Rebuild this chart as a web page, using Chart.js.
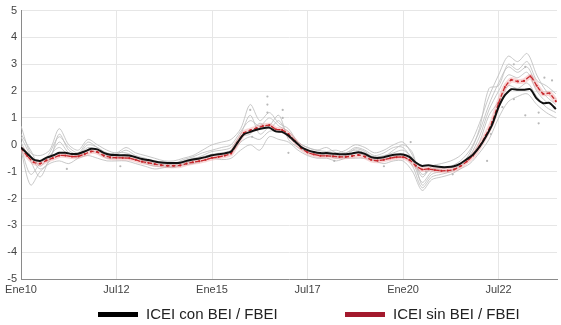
<!DOCTYPE html>
<html>
<head>
<meta charset="utf-8">
<script src="https://cdn.jsdelivr.net/npm/chart.js@4/dist/chart.umd.min.js"></script>
<style>
  body { margin: 0; background: #fff; font-family: "Liberation Sans", Arial, sans-serif; }
  #wrap { position: relative; width: 561px; height: 325px; }
  .key { position: absolute; top: 305px; font-size: 15px; color: #222; line-height: 18px; white-space: nowrap; }
  .key i { display: inline-block; width: 40px; height: 5px; vertical-align: middle; margin-right: 8px; margin-top: -2px; }
</style>
</head>
<body>
<div id="wrap">
  <canvas id="c" width="561" height="325"></canvas>
  <div class="key" style="left:98px"><i style="background:#000"></i>ICEI con BEI / FBEI</div>
  <div class="key" style="left:345px"><i style="background:#a3192d"></i>ICEI sin BEI / FBEI</div>
</div>
<script>
// x axis is decimal years; ticks every 2.5 years
const xTickValues = [2010, 2012.5, 2015, 2017.5, 2020, 2022.5];
const xTickLabels = ["Ene10", "Jul12", "Ene15", "Jul17", "Ene20", "Jul22"];

// bi-monthly dates for the two headline indices, Jan 2010 .. Jan 2024
const biMonths = [];
for (let k = 0; k <= 84; k++) biMonths.push(2010 + k / 6);
// quarterly dates for the individual component series
const quarters = [];
for (let k = 0; k <= 56; k++) quarters.push(2010 + k / 4);

// ICEI con BEI / FBEI
const iceiCon = [
  -0.10, -0.33, -0.55, -0.60, -0.48, -0.40, -0.30, -0.30, -0.34, -0.33, -0.25, -0.15, // 2010-11
  -0.17, -0.30, -0.37, -0.38, -0.39, -0.40,   // 2012
  -0.46, -0.53, -0.57, -0.62, -0.66, -0.68,   // 2013
  -0.68, -0.67, -0.60, -0.55, -0.51, -0.46,   // 2014
  -0.39, -0.35, -0.32, -0.25, 0.08, 0.39,     // 2015
  0.48, 0.56, 0.62, 0.64, 0.50, 0.48,         // 2016
  0.34, 0.13, -0.08, -0.20, -0.27, -0.31,     // 2017
  -0.31, -0.33, -0.35, -0.35, -0.32, -0.28,   // 2018
  -0.34, -0.46, -0.49, -0.46, -0.40, -0.36,   // 2019
  -0.36, -0.45, -0.66, -0.79, -0.76, -0.80,   // 2020
  -0.83, -0.83, -0.80, -0.70, -0.54, -0.36,   // 2021
  -0.08, 0.30, 0.75, 1.40, 1.85, 2.07,        // 2022
  2.05, 2.05, 2.07, 1.72, 1.55, 1.56,         // 2023
  1.33
];

// ICEI sin BEI / FBEI
const iceiSin = [
  -0.12, -0.42, -0.65, -0.70, -0.58, -0.50, -0.40, -0.40, -0.44, -0.43, -0.35, -0.25,
  -0.27, -0.40, -0.47, -0.48, -0.49, -0.50,
  -0.56, -0.63, -0.67, -0.72, -0.76, -0.78,
  -0.78, -0.77, -0.70, -0.65, -0.61, -0.56,
  -0.49, -0.45, -0.40, -0.32, 0.08, 0.44,
  0.54, 0.62, 0.70, 0.73, 0.58, 0.55,
  0.40, 0.15, -0.12, -0.28, -0.36, -0.41,
  -0.41, -0.43, -0.45, -0.45, -0.42, -0.38,
  -0.44, -0.56, -0.59, -0.56, -0.50, -0.46,
  -0.46, -0.56, -0.78, -0.92, -0.90, -0.94,
  -0.97, -0.96, -0.92, -0.80, -0.62, -0.40,
  -0.06, 0.35, 0.85, 1.55, 2.15, 2.42,
  2.36, 2.38, 2.55, 2.20, 1.90, 1.92,
  1.62
];

// component series (quarterly)
const compA = [0.7, -0.3, -0.4, -0.2, 0.6, 0.0, -0.2, 0.2, 0.0, -0.2, -0.3, -0.1, -0.3, -0.4, -0.5, -0.6, -0.6, -0.5, -0.4, -0.2, 0.0, 0.1, 0.2, 0.6, 1.5, 0.9, 1.2, 0.8, 0.6, 0.1, -0.1, -0.2, -0.1, -0.3, -0.2, 0.0, -0.1, -0.3, -0.2, 0.0, 0.1, -0.4, -1.2, -0.8, -0.7, -0.6, -0.4, 0.0, 0.8, 1.8, 2.6, 3.3, 3.1, 3.4, 2.6, 2.0, 1.7];
const compB = [-0.2, -1.5, -1.0, -0.7, -0.6, -0.7, -0.5, -0.4, -0.5, -0.6, -0.6, -0.6, -0.7, -0.8, -0.9, -0.85, -0.8, -0.75, -0.7, -0.6, -0.5, -0.55, -0.5, -0.2, 0.0, -0.2, 0.3, 0.2, 0.1, -0.2, -0.4, -0.5, -0.5, -0.6, -0.5, -0.5, -0.5, -0.6, -0.7, -0.6, -0.6, -1.0, -1.7, -1.3, -1.2, -1.1, -0.9, -0.7, -0.3, 0.2, 1.0, 1.6, 1.8, 1.9, 1.5, 1.2, 1.0];
const compC = [0.4, -0.2, -0.8, -0.3, 0.3, -0.1, -0.3, 0.1, -0.1, -0.3, -0.35, -0.2, -0.4, -0.5, -0.6, -0.65, -0.7, -0.55, -0.45, -0.3, -0.2, -0.1, 0.0, 0.5, 0.9, 0.7, 1.0, 0.7, 0.5, 0.1, -0.1, -0.2, -0.25, -0.2, -0.3, -0.1, -0.2, -0.4, -0.3, -0.1, -0.1, -0.6, -1.4, -1.0, -0.9, -0.8, -0.6, -0.2, 0.5, 1.5, 2.3, 2.9, 2.7, 2.9, 2.2, 1.8, 1.5];
const compD = [0.1, -0.6, -1.2, -0.5, 0.1, -0.3, -0.4, -0.1, -0.2, -0.4, -0.45, -0.35, -0.5, -0.6, -0.7, -0.75, -0.7, -0.6, -0.5, -0.45, -0.35, -0.3, -0.2, 0.3, 0.4, 0.8, 0.6, 0.9, 0.3, 0.0, -0.2, -0.3, -0.35, -0.4, -0.3, -0.2, -0.3, -0.45, -0.4, -0.3, -0.2, -0.5, -1.1, -0.9, -0.85, -0.85, -0.7, -0.4, 0.3, 1.3, 2.0, 2.6, 2.5, 2.7, 2.0, 1.6, 1.4];
const compE = [0.3, -0.4, -0.9, -0.6, 0.4, -0.2, -0.35, 0.0, -0.1, -0.35, -0.3, -0.3, -0.45, -0.6, -0.75, -0.7, -0.75, -0.65, -0.55, -0.4, -0.25, -0.2, -0.1, 0.4, 1.1, 0.4, 0.7, 1.1, 0.2, -0.1, -0.25, -0.3, -0.3, -0.45, -0.4, -0.15, -0.25, -0.5, -0.45, -0.2, 0.0, -0.3, -1.5, -1.1, -1.0, -0.95, -0.75, -0.3, 0.6, 2.1, 2.2, 3.0, 2.8, 3.1, 2.4, 2.2, 1.9];
const compF = [-0.1, -1.1, -0.7, -0.4, -0.1, -0.4, -0.45, -0.2, -0.3, -0.5, -0.5, -0.45, -0.55, -0.7, -0.8, -0.8, -0.85, -0.7, -0.6, -0.5, -0.4, -0.35, -0.3, 0.1, 0.3, 0.2, 0.5, 0.5, 0.3, 0.0, -0.3, -0.35, -0.4, -0.5, -0.45, -0.3, -0.4, -0.55, -0.55, -0.45, -0.4, -0.8, -1.6, -1.2, -1.1, -1.0, -0.8, -0.5, 0.1, 1.1, 1.6, 2.2, 2.1, 2.3, 1.8, 1.4, 1.2];
const components = [compA, compB, compC, compD, compE, compF];

// isolated component readings shown as dots
const dotDates = [2011.2, 2012.6, 2016.0, 2016.05, 2016.45, 2016.45, 2016.45, 2016.85, 2016.85, 2017.0, 2018.2, 2019.5, 2020.2, 2020.6, 2021.3, 2022.2, 2022.3, 2022.6, 2022.9, 2022.9, 2023.2, 2023.2, 2023.55, 2023.55, 2023.7, 2023.9];
const dotValues = [-0.9, -0.8, 1.3, 0.3, 1.8, 1.5, 1.2, 1.3, 1.0, -0.3, -0.6, -0.8, 0.1, -1.0, -1.1, -0.6, 0.4, 1.4, 3.0, 1.7, 2.9, 1.1, 1.2, 0.8, 2.5, 2.4];

const pts = (xs, ys) => ys.map((v, i) => ({ x: xs[i], y: v }));

const datasets = [
  { data: pts(biMonths, iceiCon), borderColor: "#111", borderWidth: 2, pointRadius: 0, tension: 0.2, order: 0 },
  { data: pts(biMonths, iceiSin), borderColor: "#c8282d", borderWidth: 1.3, borderDash: [4, 2],
    pointRadius: 1.1, pointBackgroundColor: "#c8282d", pointBorderWidth: 0, tension: 0.2, order: 1 },
  { data: pts(biMonths, iceiSin), borderColor: "rgba(235,140,140,0.35)", borderWidth: 5, pointRadius: 0, tension: 0.2, order: 2 },
  { type: "scatter", data: pts(dotDates, dotValues), pointRadius: 1.1, pointBackgroundColor: "#b8b8b8", pointBorderWidth: 0, order: 3 },
];
components.forEach((c) => {
  datasets.push({ data: pts(quarters, c), borderColor: "rgba(190,190,190,0.85)", borderWidth: 1, pointRadius: 0, tension: 0.3, order: 4 });
});

new Chart(document.getElementById("c"), {
  type: "line",
  data: { datasets },
  options: {
    responsive: false,
    animation: false,
    parsing: false,
    layout: { padding: { top: 8, right: 0, left: 0, bottom: 0 } },
    plugins: { legend: { display: false }, tooltip: { enabled: false } },
    scales: {
      x: {
        type: "linear", min: 2010, max: 2024.03,
        afterBuildTicks: (axis) => { axis.ticks = xTickValues.map((v) => ({ value: v })); },
        afterFit: (axis) => { axis.height = 46; },
        ticks: {
          autoSkip: false, maxRotation: 0, padding: 4, color: "#444",
          font: { family: "Liberation Sans", size: 11 },
          callback: (v) => xTickLabels[xTickValues.indexOf(v)] ?? "",
        },
        grid: { color: "#e6e6e6", drawTicks: false },
        border: { color: "#8a8a8a" },
      },
      y: {
        min: -5, max: 5,
        afterFit: (axis) => { axis.width = 21; },
        ticks: { stepSize: 1, padding: 4, color: "#444", font: { family: "Liberation Sans", size: 11 } },
        grid: { color: "#e6e6e6", drawTicks: false },
        border: { color: "#8a8a8a" },
      },
    },
  },
});
</script>
</body>
</html>
